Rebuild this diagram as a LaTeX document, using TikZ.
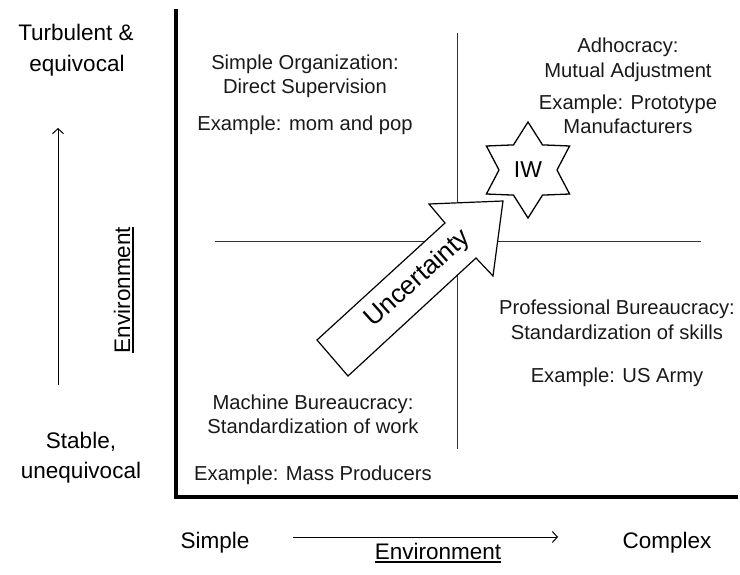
\documentclass[tikz,border=0pt]{standalone}
\usepackage{fontspec}
\setmainfont{Liberation Sans}
\usetikzlibrary{arrows.meta}
\newcommand\envul[1]{\vtop{\hbox{#1}\kern2pt\hrule height 1.4pt}}
\begin{document}
\begin{tikzpicture}[x=1pt,y=-1pt,
  qtext/.style={font=\fontsize{20.2}{24}\selectfont, inner sep=0pt, anchor=base, text=black!90},
  atext/.style={font=\fontsize{22.5}{27}\selectfont, inner sep=0pt, anchor=base},
  axisline/.style={line width=4pt, black},
  quadline/.style={line width=1.5pt, black!80},
  thinarrow/.style={line width=1pt, -{Straight Barb[length=5pt,width=11pt]}},
  bigarrow/.style={draw=black, fill=white, line width=1.2pt, line join=miter},
  starshape/.style={draw=black, fill=white, line width=1.3pt, line join=miter}]
\useasboundingbox (0,0) rectangle (740,575);

% quadrant lines
\draw[quadline] (457.5,33) -- (457.5,449);
\draw[quadline] (215,241.7) -- (701,241.7);

% main axes
\draw[axisline] (176,9) -- (176,497) -- (738,497);

% left axis labels
\node[atext] (turb) at (76,41) {Turbulent \&};
\node[atext] (equiv) at (77,72) {equivocal};
\node[atext] (stable) at (81,448) {Stable,};
\node[atext] (unequiv) at (81,478) {unequivocal};
\coordinate (vtail) at (58,385);
\coordinate (vhead) at (58,128);
\draw[thinarrow] (vtail) -- (vhead);
\node[atext, rotate=90] (envv) at (130,290) {\envul{Environment}};

% bottom axis labels
\node[atext] (simple) at (215,548) {Simple};
\node[atext] (complex) at (667,548) {Complex};
\coordinate (htail) at (293,537);
\coordinate (hhead) at (558,537);
\draw[thinarrow] (htail) -- (hhead);
\node[atext] (envh) at (438,559) {\envul{Environment}};

% top-left quadrant
\node[qtext] (so1) at (305,70) {Simple Organization:};
\node[qtext] (so2) at (305,94) {Direct Supervision};
\node[qtext] (so3) at (305,131) {Example: mom and pop};

% top-right quadrant
\node[qtext] (ad1) at (628,53) {Adhocracy:};
\node[qtext] (ad2) at (628,78) {Mutual Adjustment};
\node[qtext] (ad3) at (628,110) {Example: Prototype};
\node[qtext] (ad4) at (628,134) {Manufacturers};

% bottom-right quadrant
\node[qtext] (pb1) at (617,315) {Professional Bureaucracy:};
\node[qtext] (pb2) at (617,339) {Standardization of skills};
\node[qtext] (pb3) at (617,382) {Example: US Army};

% bottom-left quadrant
\node[qtext] (mb1) at (313,409) {Machine Bureaucracy:};
\node[qtext] (mb2) at (313,433) {Standardization of work};
\node[qtext] (mb3) at (313,480) {Example: Mass Producers};

% uncertainty block arrow
\draw[bigarrow] (503,201) -- (429,204) -- (445,223) -- (317,340) -- (348,376)
  -- (476,258) -- (493,276) -- cycle;
\node[font=\fontsize{26}{30}\selectfont, rotate=42, inner sep=0pt] (unc) at (418,279) {Uncertainty};

% IW star
\draw[starshape, shift={(528,170)}] (90:48) -- (120:29) -- (150:48) -- (180:29)
  -- (210:48) -- (240:29) -- (270:48) -- (300:29) -- (330:48) -- (0:29)
  -- (30:48) -- (60:29) -- cycle;
\node[font=\fontsize{23}{27}\selectfont, inner sep=0pt] (iw) at (528,170) {IW};
\end{tikzpicture}
\end{document}
